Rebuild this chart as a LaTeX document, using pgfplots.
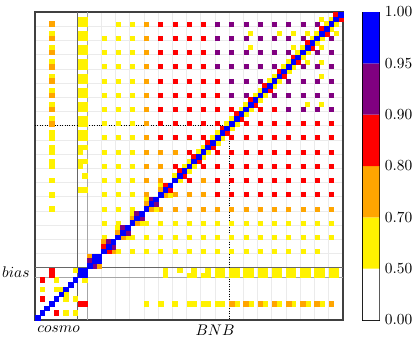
\documentclass[border=0pt]{standalone}
\usepackage{pgfplots}
\pgfplotsset{compat=1.18}
\definecolor{mplorange}{HTML}{FFA500}
\definecolor{mplpurple}{HTML}{800080}
\pgfplotsset{
  cell/.style={only marks, color=#1, mark=square*, mark size=1.5pt, mark options={line width=0.15pt, draw=#1, fill=#1}},
  dot/.style={only marks, color=#1, mark=square*, mark size=1.3pt, mark options={line width=0.15pt, draw=#1, fill=#1}},
}
\begin{document}
\begin{tikzpicture}
\useasboundingbox (-22.7pt,-13pt) rectangle (246.8pt,207.8pt);

\begin{axis}[
    name=main, at={(0,0)}, anchor=south west,
    scale only axis, width=200pt, height=200pt,
    xmin=-0.5, xmax=64.5, ymin=-0.5, ymax=64.5,
    xtick={4.5,37.5}, xticklabels={$cosmo$,$BNB$},
    ytick={9.5}, yticklabels={$bias$},
    major tick length=0pt, minor tick length=0pt,
    minor xtick={13.5,16.5,...,61.5}, minor ytick={13.5,16.5,...,61.5},
    xminorgrids, yminorgrids,
    minor grid style={black!8, line width=0.5pt},
    axis line style={black!75, line width=0.8pt},
    clip=false,
]

% --- group-to-group correlations (one marker per block)
\addplot[dot=yellow] coordinates {
  (14,17)(14,20)(14,23)(14,26)(14,29)(14,32)(14,35)(14,38)(14,41)(14,44)(14,47)(14,50)(14,53)(14,56)(14,59)
  (17,14)(20,14)(23,14)(26,14)(29,14)(32,14)(35,14)(38,14)(41,14)(44,14)(47,14)(50,14)(53,14)(56,14)(59,14)
  (17,20)(17,23)(17,26)(17,29)(17,32)(17,35)(17,38)(17,41)(17,44)(17,47)(17,50)(17,53)(17,56)(17,59)(17,62)
  (20,17)(23,17)(26,17)(29,17)(32,17)(35,17)(38,17)(41,17)(44,17)(47,17)(50,17)(53,17)(56,17)(59,17)(62,17)
  (20,23)(20,26)(20,29)(20,32)(20,35)(20,38)(20,41)(20,44)(20,47)(20,50)(20,53)(20,56)(20,59)(20,62)
  (23,20)(26,20)(29,20)(32,20)(35,20)(38,20)(41,20)(44,20)(47,20)(50,20)(53,20)(56,20)(59,20)(62,20)
  (60,45)(60,51)(60,54)(60,57)(60,63)(45,60)(51,60)(54,60)(57,60)(63,60)
  (57,45)(45,57)(57,54)(54,57)
};
\addplot[dot=mplorange] coordinates {
  (23,26)(23,29)(23,32)(23,35)(23,38)(23,41)(23,44)(23,47)(23,50)(23,53)(23,56)(23,59)(23,62)
  (26,23)(29,23)(32,23)(35,23)(38,23)(41,23)(44,23)(47,23)(50,23)(53,23)(56,23)(59,23)(62,23)
  (26,29)(26,32)(26,35)(29,26)(32,26)(35,26)(29,35)(35,29)
};
\addplot[dot=red] coordinates {
  (26,38)(26,41)(26,44)(26,47)(26,50)(26,53)(26,56)(26,59)(26,62)
  (38,26)(41,26)(44,26)(47,26)(50,26)(53,26)(56,26)(59,26)(62,26)
  (29,32)(29,38)(29,41)(29,44)(29,47)(29,50)(29,53)(29,56)(29,59)(29,62)
  (32,29)(38,29)(41,29)(44,29)(47,29)(50,29)(53,29)(56,29)(59,29)(62,29)
  (32,35)(32,38)(32,41)(32,44)(32,47)(32,50)(32,53)(32,56)(32,59)(32,62)
  (35,32)(38,32)(41,32)(44,32)(47,32)(50,32)(53,32)(56,32)(59,32)(62,32)
  (35,38)(35,41)(35,44)(35,47)(35,50)(35,53)(35,56)(35,59)(35,62)
  (38,35)(41,35)(44,35)(47,35)(50,35)(53,35)(56,35)(59,35)(62,35)
  (38,41)(38,44)(38,47)(38,50)
  (41,38)(44,38)(47,38)(50,38)(53,38)(56,38)(59,38)(62,38)
  (41,44)(44,41)(47,41)(50,41)(53,41)(56,41)(59,41)(62,41)
  (47,44)(50,44)
};
\addplot[dot=mplpurple] coordinates {
  (38,53)(38,56)(38,59)(38,62)
  (41,47)(41,50)(41,53)(41,56)(41,59)(41,62)
  (44,47)(44,50)(44,53)(44,56)(44,59)(44,62)(53,44)(56,44)(59,44)(62,44)
  (47,50)(47,53)(47,56)(47,59)(47,62)(50,47)(53,47)(56,47)(59,47)(62,47)
  (50,53)(50,56)(50,59)(50,62)(53,50)(56,50)(59,50)(62,50)
  (53,56)(53,59)(53,62)(56,53)(59,53)(62,53)
  (56,59)(56,62)(59,56)(62,56)
  (59,62)(62,59)
};

% --- full cells: diagonal blocks, cosmo, bias
\addplot[cell=yellow] coordinates {
  (17,19)(19,17)(20,22)(22,20)(23,25)(25,23)(26,28)(28,26)
  (29,30)(30,29)(32,33)(33,32)(35,36)(36,35)(38,39)(39,38)(41,42)(42,41)(44,45)(45,44)
  (47,48)(48,47)(50,51)(51,50)(53,54)(54,53)(56,57)(57,56)(59,60)(60,59)(62,63)(63,62)
  (31,32)(32,31)(34,35)(35,34)(37,38)(38,37)(40,41)(41,40)(43,44)(44,43)(46,47)(47,46)
  (49,50)(50,49)(52,53)(53,52)(55,56)(56,55)(58,59)(59,58)(61,62)(62,61)
  (4,8)(1,6)(4,6)(5,6)(6,5)(6,4)(8,4)(6,1)(8,1)(10,8)(8,10)
  (3,23)(3,26)(3,29)(3,32)(3,33)(3,35)(3,36)(3,38)(3,39)(3,42)(3,45)(3,48)(3,51)(3,54)(3,57)(3,60)
  (23,3)(26,3)(29,3)(32,3)(33,3)(35,3)(36,3)(38,3)(39,3)(42,3)(45,3)(48,3)(51,3)(54,3)(57,3)(60,3)
  (27,9)(27,10)(9,27)(10,27)(30,10)(10,30)(32,9)(33,9)(33,10)(9,32)(9,33)(10,33)
  (35,9)(36,9)(36,10)(9,35)(9,36)(10,36)
  (38,9)(38,10)(39,9)(39,10)(41,9)(41,10)(42,9)(42,10)(44,9)(44,10)(45,9)(45,10)
  (47,9)(47,10)(48,9)(48,10)(50,9)(50,10)(51,9)(51,10)(53,9)(53,10)(54,9)(54,10)
  (56,9)(56,10)(57,9)(57,10)(59,9)(59,10)(60,9)(60,10)(62,9)(62,10)(63,9)(63,10)
  (9,38)(10,38)(9,39)(10,39)(9,41)(10,41)(9,42)(10,42)(9,44)(10,44)(9,45)(10,45)
  (9,47)(10,47)(9,48)(10,48)(9,50)(10,50)(9,51)(10,51)(9,53)(10,53)(9,54)(10,54)
  (9,56)(10,56)(9,57)(10,57)(9,59)(10,59)(9,60)(10,60)(9,62)(10,62)(9,63)(10,63)
};
\addplot[cell=mplorange] coordinates {
  (11,13)(13,11)(14,16)(16,14)(17,18)(18,17)(20,21)(21,20)(23,24)(24,23)(26,27)(27,26)
  (3,41)(3,44)(3,47)(3,50)(3,53)(3,56)(3,59)(3,62)
  (41,3)(44,3)(47,3)(50,3)(53,3)(56,3)(59,3)(62,3)
};
\addplot[cell=red] coordinates {
  (14,15)(15,14)(27,28)(28,27)(30,31)(31,30)(33,34)(34,33)(36,37)(37,36)(39,40)(40,39)
  (42,43)(43,42)(45,46)(46,45)(48,49)(49,48)(51,52)(52,51)(54,55)(55,54)(57,58)(58,57)
  (60,61)(61,60)(63,64)(64,63)
  (1,8)(1,4)(4,1)(3,9)(3,10)(9,3)(10,3)
};
\addplot[cell=mplpurple] coordinates {
  (11,12)(12,11)(15,16)(16,15)(18,19)(19,18)(21,22)(22,21)(24,25)(25,24)
};
\addplot[cell=blue] coordinates {
  (0,0)(1,1)(2,2)(3,3)(4,4)(5,5)(6,6)(7,7)(8,8)(9,9)(10,10)(11,11)(12,12)(13,13)(14,14)
  (15,15)(16,16)(17,17)(18,18)(19,19)(20,20)(21,21)(22,22)(23,23)(24,24)(25,25)(26,26)
  (27,27)(28,28)(29,29)(30,30)(31,31)(32,32)(33,33)(34,34)(35,35)(36,36)(37,37)(38,38)
  (39,39)(40,40)(41,41)(42,42)(43,43)(44,44)(45,45)(46,46)(47,47)(48,48)(49,49)(50,50)
  (51,51)(52,52)(53,53)(54,54)(55,55)(56,56)(57,57)(58,58)(59,59)(60,60)(61,61)(62,62)
  (63,63)(64,64)(9,10)(10,9)(12,13)(13,12)
};

% block separators and markers
\draw[black!60, line width=0.7pt] (axis cs:8.5,-0.5) -- (axis cs:8.5,64.5);
\draw[black!35, line width=0.7pt] (axis cs:10.5,-0.5) -- (axis cs:10.5,64.5);
\draw[black!60, line width=0.7pt] (axis cs:-0.5,10.5) -- (axis cs:64.5,10.5);
\draw[black!35, line width=0.7pt] (axis cs:-0.5,8.5) -- (axis cs:64.5,8.5);
\draw[black, densely dotted, line width=0.6pt] (axis cs:-0.5,40.5) -- (axis cs:40.5,40.5) -- (axis cs:40.5,-0.5);
\end{axis}

\begin{axis}[
    name=cbar, at={(213pt,0)}, anchor=south west,
    scale only axis, width=10.7pt, height=200pt,
    xmin=0, xmax=1, ymin=0, ymax=6,
    xtick=\empty, ytick={0,1,2,3,4,5,6},
    yticklabels={0.00,0.50,0.70,0.80,0.90,0.95,1.00},
    yticklabel pos=right, major tick length=0pt,
    axis line style={black, line width=0.6pt},
]
\addplot[fill=white, draw=none] coordinates {(0,0)(1,0)(1,1)(0,1)(0,0)};
\addplot[fill=yellow, draw=none] coordinates {(0,1)(1,1)(1,2)(0,2)(0,1)};
\addplot[fill=mplorange, draw=none] coordinates {(0,2)(1,2)(1,3)(0,3)(0,2)};
\addplot[fill=red, draw=none] coordinates {(0,3)(1,3)(1,4)(0,4)(0,3)};
\addplot[fill=mplpurple, draw=none] coordinates {(0,4)(1,4)(1,5)(0,5)(0,4)};
\addplot[fill=blue, draw=none] coordinates {(0,5)(1,5)(1,6)(0,6)(0,5)};
\end{axis}
\end{tikzpicture}
\end{document}
